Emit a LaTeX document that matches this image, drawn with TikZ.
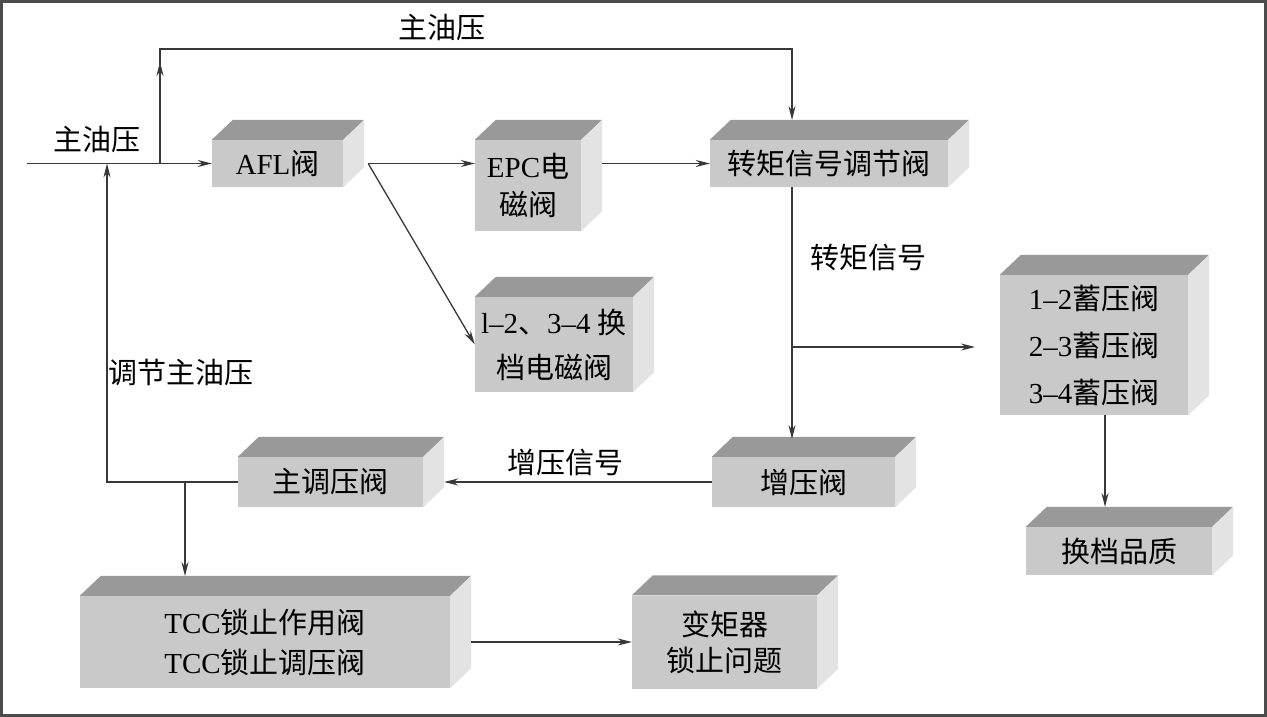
\documentclass[tikz,border=0pt]{standalone}
\usepackage{fontspec}
\setmainfont{Liberation Serif}
\newfontfamily\cjk{Noto Sans CJK SC}
\newcommand\zh[1]{{\cjk #1}}
\usetikzlibrary{arrows.meta}
\tikzset{valve/.style={fill=black!21,inner sep=0pt,align=center,font=\fontsize{29}{38}\selectfont},
topface/.style={fill=black!40},sideface/.style={fill=black!11},
flow/.style={line width=1.3pt,draw=black!78,-{Stealth[length=14pt,width=7pt]}},
pipe/.style={line width=1.3pt,draw=black!78},
tag/.style={inner sep=0pt,font=\fontsize{29}{34}\selectfont}}

\begin{document}
\begin{tikzpicture}[x=1pt,y=-1pt]
\path[use as bounding box] (0,0) rectangle (1267,717);
\draw[black!70,line width=2.5pt] (1.5,1.5) rectangle (1265.5,715.5);
% front faces
\node[valve,minimum width=131pt,minimum height=47pt] (afl) at (277.5,163.5) {AFL\zh{阀}};
\node[valve,minimum width=106pt,minimum height=91pt] (epc) at (528,185.5) {EPC\zh{电}\\\zh{磁阀}};
\node[valve,minimum width=238pt,minimum height=47pt] (tsv) at (829,163.5) {\zh{转矩信号调节阀}};
\node[valve,minimum width=158pt,minimum height=95pt,font=\fontsize{29}{45}\selectfont] (ssv) at (554,344.5) {l--2\zh{、}3--4 \zh{换}\\\zh{档电磁阀}};
\node[valve,minimum width=188pt,minimum height=140pt,font=\fontsize{29}{47}\selectfont] (acc) at (1094,345) {1--2\zh{蓄压阀}\\2--3\zh{蓄压阀}\\3--4\zh{蓄压阀}};
\node[valve,minimum width=183pt,minimum height=50pt] (bst) at (803.5,482) {\zh{增压阀}};
\node[valve,minimum width=185pt,minimum height=50pt] (mrv) at (330.5,482) {\zh{主调压阀}};
\node[valve,minimum width=186pt,minimum height=48pt] (sq) at (1119,551) {\zh{换档品质}};
\node[valve,minimum width=370pt,minimum height=92pt,font=\fontsize{29}{40}\selectfont] (tcc) at (265,642) {TCC\zh{锁止作用阀}\\TCC\zh{锁止调压阀}};
\node[valve,minimum width=185pt,minimum height=93pt,font=\fontsize{29}{36}\selectfont] (conv) at (724.5,642) {\zh{变矩器}\\\zh{锁止问题}};
% top and side faces
\foreach \v in {afl,epc,tsv,ssv,acc,bst,mrv,sq,tcc,conv}{
\fill[topface] (\v.north west) -- ++(21,-20) -- ([shift={(21,-20)}]\v.north east) -- (\v.north east) -- cycle;
\fill[sideface] (\v.north east) -- ++(21,-20) -- ([shift={(21,-20)}]\v.south east) -- (\v.south east) -- cycle;
}
% free ends and bends
\coordinate (feed) at (27,163.5);
\coordinate (split) at (160,163.5);
\coordinate (ceil) at (160,49);
\coordinate (tsvtop) at (792,120);
\coordinate (tap) at (792,347);
\coordinate (accin) at (975,347);
\coordinate (bsttop) at (792,439);
\coordinate (back) at (107,482);
\coordinate (drop) at (185,482);
\coordinate (tcctop) at (185,576);
\coordinate (sqtop) at (1105,507);
% connectors
\draw[flow] (feed) -- (afl.west);
\draw[flow] (split) -- ([yshift=-13pt]ceil);
\draw[flow] (split) -- (ceil) -| (tsvtop);
\draw[flow] ([xshift=25pt]afl.east) -- (afl.east -| epc.west);
\draw[flow] ([xshift=25pt]afl.east) -- (ssv.west);
\draw[flow] ([xshift=21pt]epc.east |- afl.east) -- (afl.east -| tsv.west);
\draw[flow] (tsv.south -| tsvtop) -- (bsttop);
\draw[flow] (tap) -- (accin);
\draw[flow] (bst.west) -- ([xshift=21pt]mrv.east);
\draw[flow] (mrv.west) -- (back) -- (back |- split);
\draw[flow] (drop) -- (tcctop);
\draw[flow] ([xshift=21pt]tcc.east) -- (conv.west);
\draw[flow] ([xshift=11pt]acc.south) -- (sqtop);
% labels
\node[tag] (lbltop) at (442,28) {\zh{主油压}};
\node[tag] (lblin) at (97,140) {\zh{主油压}};
\node[tag] (lbltq) at (868,258) {\zh{转矩信号}};
\node[tag,anchor=west] (lblfb) at (108,372) {\zh{调节主油压}};
\node[tag] (lblbst) at (565,462) {\zh{增压信号}};
\end{tikzpicture}
\end{document}
